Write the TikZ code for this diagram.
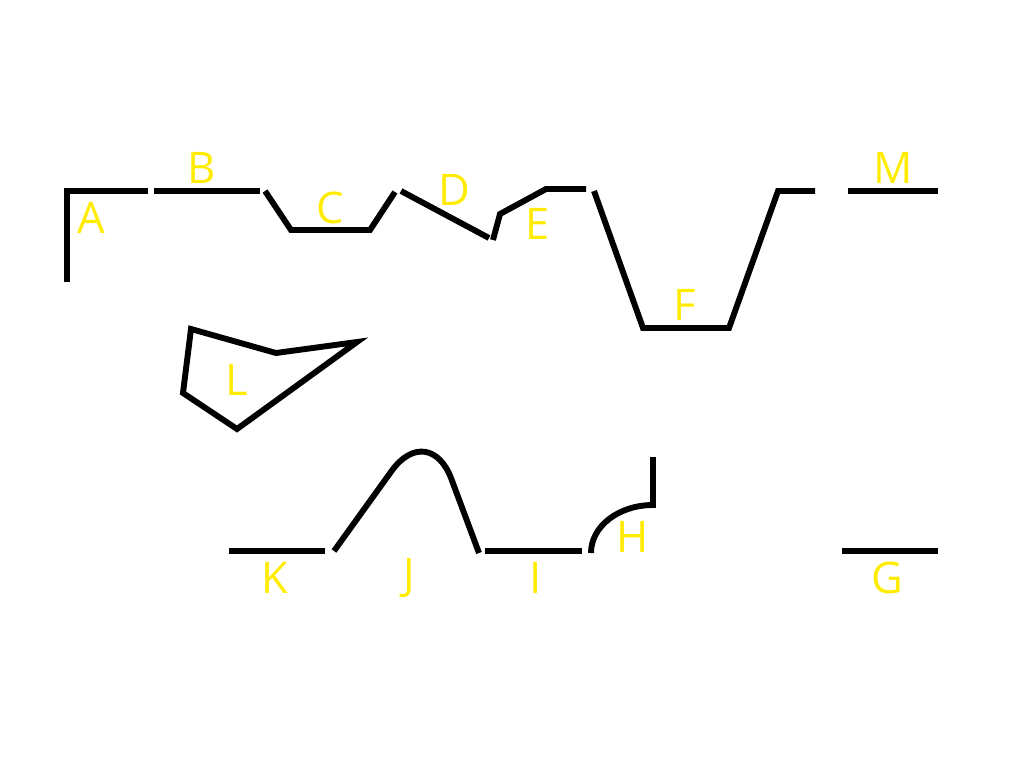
\documentclass[tikz,border=0pt]{standalone}
\usepackage{fontspec}
\setmainfont{Open Sans}
\usepackage{xcolor}
\usepackage{tikz}
\usetikzlibrary{positioning}

\definecolor{labelyellow}{RGB}{255,236,0}

\begin{document}
\begin{tikzpicture}[x=0.025cm, y=-0.025cm]
				% Styles
				\tikzstyle{stroke} = [line width=4.2pt, black, line cap=butt, line join=miter]
				\tikzstyle{lbl} = [text=labelyellow, font=\fontsize{31}{36}\selectfont, inner sep=0pt]

				\useasboundingbox (0,0) rectangle (1024,768);

				% Top row
				\draw [stroke] (67,282) -- (67,191) -- (148,191);
				\draw [stroke] (154,191) -- (260,191);
				\draw [stroke] (265,191) -- (291,230) -- (370,230) -- (395,192);
				\draw [stroke] (401,191) -- (489,238);
				\draw [stroke] (493,240) -- (500,214) -- (546,189) -- (586,189);
				\draw [stroke] (594,191) -- (643,328) -- (729,328) -- (778,191) -- (815,191);
				\draw [stroke] (848,191) -- (938,191);

				% Polygon
				\draw [stroke] (191,329) -- (276,353) -- (357,342) -- (237,429) -- (183,393) -- cycle;

				% Bottom row
				\draw [stroke] (229,551) -- (325,551);
				\draw [stroke, rounded corners=1.6cm] (334,551) -- (429,419) -- (479,553);
				\draw [stroke] (485,551) -- (582,551);
				\draw [stroke] (591,553) .. controls (591,526) and (619,505) .. (653,505) -- (653,457);
				\draw [stroke] (842,551) -- (938,551);

				% Labels
				\node (a) [lbl] at (91,218) {A};
				\node (b) [lbl] at (202,168) {B};
				\node (c) [lbl] at (330,208) {C};
				\node (d) [lbl] at (454,190) {D};
				\node (e) [lbl] at (538,224) {E};
				\node (f) [lbl] at (685,305) {F};
				\node (m) [lbl] at (893,168) {M};
				\node (l) [lbl] at (237,380) {L};
				\node (k) [lbl] at (275,578) {K};
				\node (j) [lbl] at (409,578) {J};
				\node (i) [lbl] at (536,578) {I};
				\node (h) [lbl] at (633,537) {H};
				\node (g) [lbl] at (887,578) {G};

			\end{tikzpicture}
\end{document}
